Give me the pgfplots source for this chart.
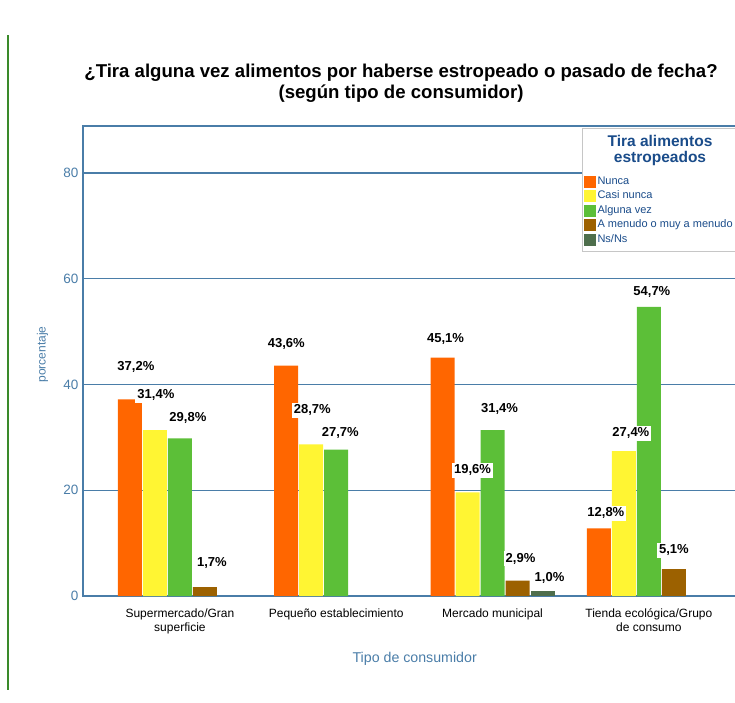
\documentclass[border=0pt]{standalone}
\usepackage{pgfplots}
\usepackage{pgfplotstable}
\pgfplotsset{compat=1.18}
\usepackage{fontspec}
\setmainfont{Liberation Sans}

\definecolor{cNunca}{HTML}{FF6600}
\definecolor{cCasi}{HTML}{FFF533}
\definecolor{cAlguna}{HTML}{5CBF38}
\definecolor{cMenudo}{HTML}{9C6100}
\definecolor{cNsNs}{HTML}{4E6E4C}
\definecolor{frameblue}{HTML}{4A7DA8}
\definecolor{legtext}{HTML}{1A4C8A}
\definecolor{leftbar}{HTML}{3A8A2A}

% x = group, y = percent, dy/dx = label offset in px
\pgfplotstableread{
x y dy dx
0 37.2 32 6
1 43.6 22 0
2 45.1 19 3
3 12.8 15 7
}\nunca
\pgfplotstableread{
x y dy dx
0 31.4 35 1
1 28.7 34 1
2 19.6 22 5
3 27.4 18 7
}\casi
\pgfplotstableread{
x y dy dx
0 29.8 20 8
1 27.7 17 4
2 31.4 21 7
3 54.7 15 3
}\alguna
\pgfplotstableread{
x y dy dx
0 1.7 24 7
2 2.9 22 3
3 5.1 19 0
}\amenudo
\pgfplotstableread{
x y dy dx
2 1.0 13 7
}\nsns

\begin{document}
\begin{tikzpicture}
\clip (0,0) rectangle (735pt,-702pt);
\draw[leftbar, line width=2pt] (8pt,-35pt) -- (8pt,-690pt);
\begin{axis}[
  at={(83pt,-596pt)}, anchor=south west,
  scale only axis, width=662pt, height=470pt,
  /pgf/number format/assume math mode=true,
  ybar=1pt, bar width=24pt,
  xmin=-0.62, xmax=3.615, ymin=0, ymax=88.9,
  xtick={0,1,2,3},
  xticklabels={{Supermercado/Gran\\superficie},{Pequeño establecimiento},{Mercado municipal},{Tienda ecológica/Grupo\\de consumo}},
  xticklabel style={align=center, font=\fontsize{12}{14}\selectfont, yshift=-9pt},
  ytick={0,20,40,60,80},
  yticklabel style={text=frameblue, font=\fontsize{13.5}{15}\selectfont, xshift=-1pt},
  major tick length=0pt,
  ymajorgrids, grid style={frameblue, line width=1.3pt},
  axis line style={frameblue, line width=1.6pt},
  ylabel={porcentaje},
  ylabel style={at={(axis description cs:-0.0612,0.514)}, anchor=center, text=frameblue, font=\fontsize{12}{14}\selectfont},
  xlabel={Tipo de consumidor},
  xlabel style={at={(axis description cs:0.501,-0.134)}, anchor=center, text=frameblue, font=\fontsize{14.2}{16}\selectfont},
  title={¿Tira alguna vez alimentos por haberse estropeado o pasado de fecha?\\(según tipo de consumidor)},
  title style={at={(axis description cs:0.4804,1.0787)}, anchor=center, align=center, font=\bfseries\fontsize{18.6}{20.5}\selectfont},
  nodes near coords={\pgfmathprintnumber[fixed,fixed zerofill,precision=1,use comma]{\pgfplotspointmeta}\%},
  visualization depends on={\thisrow{dy}\as\dy},
  visualization depends on={\thisrow{dx}\as\dx},
  every node near coord/.append style={anchor=center, yshift=\dy, xshift=\dx,
    fill=white, inner sep=2pt, text=black, font=\bfseries\fontsize{13}{14}\selectfont},
  legend image code/.code={\fill[#1] (0pt,-6pt) rectangle (12pt,6pt);},
  legend style={at={(axis description cs:0.757,0.8957)}, anchor=north west, draw=none, fill=none,
    inner sep=0pt, row sep=1.6pt, font=\fontsize{11}{12}\selectfont, text=legtext,
    nodes={inner sep=1.2pt, text height=8pt, text depth=2.5pt}},
  legend cell align=left,
]
\addplot[fill=cNunca, draw=none] table[x=x,y=y] {\nunca};
\addplot[fill=cCasi, draw=none] table[x=x,y=y] {\casi};
\addplot[fill=cAlguna, draw=none] table[x=x,y=y] {\alguna};
\addplot[fill=cMenudo, draw=none] table[x=x,y=y] {\amenudo};
\addplot[fill=cNsNs, draw=none] table[x=x,y=y] {\nsns};
\draw[fill=white, draw=gray!45, line width=1pt] (axis description cs:0.7538,0.9957) rectangle (axis description cs:1.05,0.734);
\node[align=center, text=legtext, font=\bfseries\fontsize{15.5}{15.5}\selectfont] at (axis description cs:0.8716,0.948) {Tira alimentos\\estropeados};
\legend{Nunca, Casi nunca, Alguna vez, A menudo o muy a menudo, Ns/Ns}
\end{axis}
\end{tikzpicture}
\end{document}
